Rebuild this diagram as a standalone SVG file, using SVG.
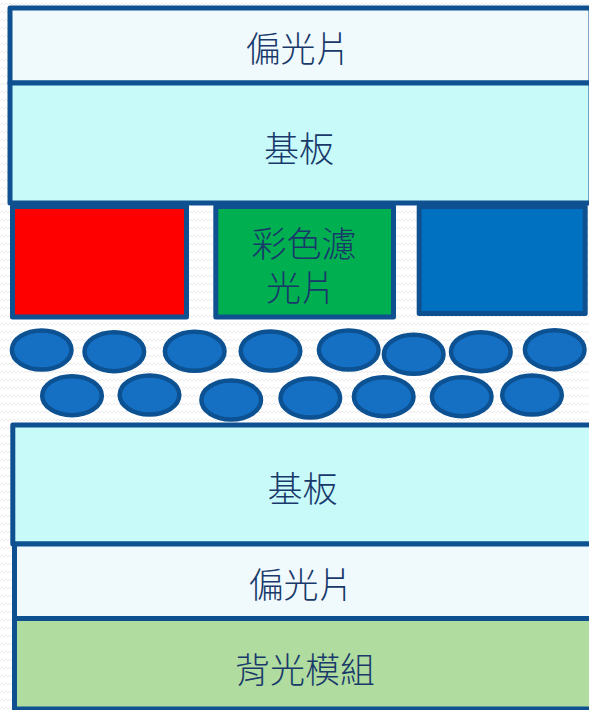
<svg xmlns="http://www.w3.org/2000/svg" width="589" height="710" viewBox="0 0 589 710">
  <defs>
    <pattern id="zz" width="8" height="8" patternUnits="userSpaceOnUse">
      <path d="M0 5 L2 3 L4 5 L6 3 L8 5" fill="none" stroke="#ececec" stroke-width="1"/>
    </pattern>
    <style>
      .layer { stroke: #0f5090; stroke-width: 5; stroke-linejoin: round; }
      .pol { fill: #f0fafd; }
      .sub { fill: #c8fafa; }
      .back { fill: #b0dca0; }
      .lc { fill: #1570c4; stroke: #0c5192; stroke-width: 4.5; }
      .lbl { font-family: "Noto Sans CJK TC", "Noto Sans CJK SC", sans-serif; font-weight: 300; font-size: 35px; fill: #18396a; text-anchor: middle; dominant-baseline: central; }
    </style>
  </defs>
  <rect width="589" height="710" fill="#ffffff"/>
  <rect width="589" height="710" fill="url(#zz)"/>

  <g id="top-polarizer">
    <rect class="layer pol" x="10" y="8" width="581" height="75"/>
    <text class="lbl" x="298" y="46.5">偏光片</text>
  </g>
  <g id="top-substrate">
    <rect class="layer sub" x="10" y="83" width="581" height="120"/>
    <text class="lbl" x="299" y="146.5">基板</text>
  </g>
  <g id="red-filter">
    <rect class="layer" fill="#ff0000" x="12.5" y="206.5" width="174" height="110.5"/>
  </g>
  <g id="green-filter">
    <rect class="layer" fill="#00b050" x="215.8" y="206.5" width="177.7" height="110.5"/>
    <text class="lbl" x="304" y="241">彩色濾</text>
    <text class="lbl" x="301" y="285.5">光片</text>
  </g>
  <g id="blue-filter">
    <rect class="layer" fill="#0070c0" x="419.2" y="206.5" width="166" height="107"/>
  </g>
  <g id="liquid-crystal">
    <ellipse class="lc" cx="41.7" cy="350" rx="29.8" ry="19.5"/>
    <ellipse class="lc" cx="114.3" cy="351.7" rx="29.8" ry="19.5"/>
    <ellipse class="lc" cx="194.7" cy="351.3" rx="29.8" ry="19.5"/>
    <ellipse class="lc" cx="270.5" cy="351" rx="29.8" ry="19.5"/>
    <ellipse class="lc" cx="348.7" cy="350" rx="29.8" ry="19.5"/>
    <ellipse class="lc" cx="413.7" cy="354.3" rx="29.8" ry="19.5"/>
    <ellipse class="lc" cx="480.8" cy="351.7" rx="29.8" ry="19.5"/>
    <ellipse class="lc" cx="554.7" cy="349.7" rx="29.8" ry="19.5"/>
    <ellipse class="lc" cx="72" cy="395.7" rx="29.8" ry="19.5"/>
    <ellipse class="lc" cx="149.5" cy="395" rx="29.8" ry="19.5"/>
    <ellipse class="lc" cx="231.2" cy="400" rx="29.8" ry="19.5"/>
    <ellipse class="lc" cx="310.3" cy="398" rx="29.8" ry="19.5"/>
    <ellipse class="lc" cx="383.7" cy="396.7" rx="29.8" ry="19.5"/>
    <ellipse class="lc" cx="461.7" cy="396.7" rx="29.8" ry="19.5"/>
    <ellipse class="lc" cx="532" cy="395" rx="29.8" ry="19.5"/>
  </g>
  <g id="bottom-substrate">
    <rect class="layer sub" x="12.8" y="425" width="580" height="119"/>
    <text class="lbl" x="302.5" y="486.7">基板</text>
  </g>
  <g id="bottom-polarizer">
    <rect class="layer pol" x="14.5" y="544" width="580" height="74.5"/>
    <text class="lbl" x="301" y="582.5">偏光片</text>
  </g>
  <g id="backlight">
    <rect class="layer back" x="14.5" y="618.5" width="580" height="90.5"/>
    <text class="lbl" x="305" y="667">背光模組</text>
  </g>
  <g id="connectors"/>
</svg>
